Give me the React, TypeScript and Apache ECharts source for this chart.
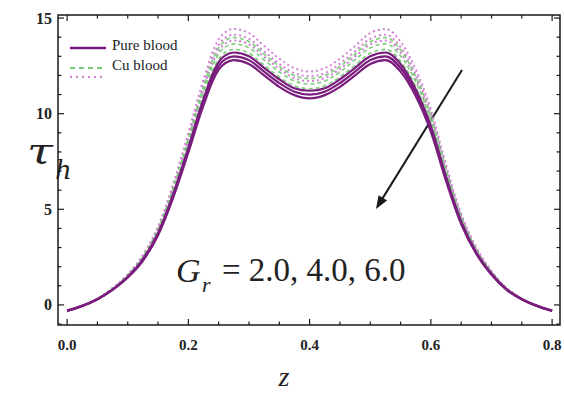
import React, { useEffect, useRef } from "react";
import * as echarts from "echarts";

// axial coordinate z
const zValues = [
  0, 0.025, 0.05, 0.075, 0.1, 0.125, 0.15, 0.175, 0.2, 0.225, 0.25, 0.275, 0.3,
  0.325, 0.35, 0.375, 0.4, 0.425, 0.45, 0.475, 0.5, 0.525, 0.55, 0.575, 0.6,
  0.625, 0.65, 0.675, 0.7, 0.725, 0.75, 0.775, 0.8,
];

// wall shear stress, pure blood, Gr = 2.0, 4.0, 6.0
const pureGr2 = [-0.3, -0.05, 0.3, 0.8, 1.47, 2.39, 3.76, 5.79, 8.23, 10.77, 12.7, 13.2, 13.0, 12.4, 11.8, 11.33, 11.2, 11.33, 11.8, 12.4, 13.0, 13.2, 12.6, 11.28, 9.35, 6.71, 4.37, 2.74, 1.63, 0.81, 0.3, -0.05, -0.3];
const pureGr4 = [-0.3, -0.05, 0.3, 0.8, 1.45, 2.35, 3.7, 5.7, 8.1, 10.6, 12.5, 13.0, 12.8, 12.2, 11.6, 11.15, 11.0, 11.15, 11.6, 12.2, 12.8, 13.0, 12.4, 11.1, 9.2, 6.6, 4.3, 2.7, 1.6, 0.8, 0.3, -0.05, -0.3];
const pureGr6 = [-0.3, -0.05, 0.3, 0.79, 1.43, 2.31, 3.64, 5.61, 7.97, 10.43, 12.3, 12.8, 12.6, 12.0, 11.4, 10.97, 10.8, 10.97, 11.4, 12.0, 12.6, 12.8, 12.2, 10.92, 9.05, 6.49, 4.23, 2.66, 1.57, 0.79, 0.3, -0.05, -0.3];

// wall shear stress, Cu blood, Gr = 2.0, 4.0, 6.0
const cuGr2 = [-0.32, -0.05, 0.32, 0.86, 1.56, 2.53, 3.98, 6.13, 8.71, 11.4, 13.44, 13.98, 13.76, 13.12, 12.47, 11.99, 11.83, 11.99, 12.47, 13.12, 13.76, 13.98, 13.33, 11.93, 9.89, 7.1, 4.62, 2.9, 1.72, 0.86, 0.32, -0.05, -0.32];
const cuGr4 = [-0.32, -0.05, 0.32, 0.84, 1.52, 2.47, 3.89, 5.99, 8.51, 11.13, 13.13, 13.65, 13.44, 12.81, 12.18, 11.71, 11.55, 11.71, 12.18, 12.81, 13.44, 13.65, 13.02, 11.66, 9.66, 6.93, 4.52, 2.84, 1.68, 0.84, 0.32, -0.05, -0.32];
const cuGr6 = [-0.31, -0.05, 0.31, 0.82, 1.49, 2.42, 3.8, 5.86, 8.33, 10.9, 12.85, 13.36, 13.16, 12.54, 11.92, 11.46, 11.31, 11.46, 11.92, 12.54, 13.16, 13.36, 12.75, 11.41, 9.46, 6.78, 4.42, 2.78, 1.64, 0.82, 0.31, -0.05, -0.31];

// third (dotted) family, Gr = 2.0, 4.0, 6.0
const dotGr2 = [-0.33, -0.06, 0.33, 0.89, 1.61, 2.61, 4.11, 6.33, 8.99, 11.77, 13.88, 14.43, 14.21, 13.54, 12.88, 12.38, 12.21, 12.38, 12.88, 13.54, 14.21, 14.43, 13.76, 12.32, 10.21, 7.33, 4.77, 3.0, 1.78, 0.89, 0.33, -0.06, -0.33];
const dotGr4 = [-0.33, -0.05, 0.33, 0.87, 1.58, 2.55, 4.02, 6.2, 8.8, 11.52, 13.59, 14.13, 13.91, 13.26, 12.61, 12.12, 11.96, 12.12, 12.61, 13.26, 13.91, 14.13, 13.48, 12.07, 10.0, 7.17, 4.67, 2.93, 1.74, 0.87, 0.33, -0.05, -0.33];
const dotGr6 = [-0.32, -0.05, 0.32, 0.85, 1.54, 2.5, 3.94, 6.06, 8.62, 11.28, 13.3, 13.83, 13.62, 12.98, 12.34, 11.86, 11.7, 11.86, 12.34, 12.98, 13.62, 13.83, 13.19, 11.81, 9.79, 7.02, 4.58, 2.87, 1.7, 0.85, 0.32, -0.05, -0.32];

// tick positions
const xMajorTicks = [0, 0.2, 0.4, 0.6, 0.8];
const xMinorTicks = [0.05, 0.1, 0.15, 0.25, 0.3, 0.35, 0.45, 0.5, 0.55, 0.65, 0.7, 0.75];
const yMajorTicks = [0, 5, 10, 15];
const yMinorTicks = [-1, 1, 2, 3, 4, 6, 7, 8, 9, 11, 12, 13, 14];

const X_MIN = -0.015;
const X_MAX = 0.813;
const Y_MIN = -1.05;
const Y_MAX = 15.16;

const PURPLE = "#7b1d7f";
const GREEN = "#7ccc7a";
const PINK = "#d47fd6";
const INK = "#1a1a1a";
const LABEL_FONT = "Liberation Serif";

const pairs = (ys: number[]) => zValues.map((z, i) => [z, ys[i]]);

// [x, y, isMajor, isYTick]
const tickData = [
  ...xMajorTicks.map((v) => [v, 0, 1, 0]),
  ...xMinorTicks.map((v) => [v, 0, 0, 0]),
  ...yMajorTicks.map((v) => [0, v, 1, 1]),
  ...yMinorTicks.map((v) => [0, v, 0, 1]),
];

function lineSeries(name: string, ys: number[], color: string, width: number, type: any, z: number) {
  return {
    type: "line",
    name,
    data: pairs(ys),
    smooth: 0.35,
    showSymbol: false,
    symbol: "none",
    z,
    lineStyle: { color, width, type },
  };
}

// inward ticks on all four sides of the frame
function renderTick(params: any, api: any) {
  const cs = params.coordSys;
  const major = api.value(2) === 1;
  const isY = api.value(3) === 1;
  const len = major ? 6 : 3.5;
  const style = { stroke: INK, lineWidth: 1.2 };
  if (!isY) {
    const x = api.coord([api.value(0), 0])[0];
    const bottom = cs.y + cs.height;
    return {
      type: "group",
      children: [
        { type: "line", shape: { x1: x, y1: bottom, x2: x, y2: bottom - len }, style },
        { type: "line", shape: { x1: x, y1: cs.y, x2: x, y2: cs.y + len }, style },
      ],
    };
  }
  const y = api.coord([0, api.value(1)])[1];
  const right = cs.x + cs.width;
  return {
    type: "group",
    children: [
      { type: "line", shape: { x1: cs.x, y1: y, x2: cs.x + len, y2: y }, style },
      { type: "line", shape: { x1: right, y1: y, x2: right - len, y2: y }, style },
    ],
  };
}

// arrow geometry (annotation)
const arrowStart = [462, 70];
const arrowTip = [376, 209];

function arrowShapes() {
  const dx = arrowTip[0] - arrowStart[0];
  const dy = arrowTip[1] - arrowStart[1];
  const len = Math.hypot(dx, dy);
  const ux = dx / len;
  const uy = dy / len;
  const bx = arrowTip[0] - ux * 13;
  const by = arrowTip[1] - uy * 13;
  const px = -uy * 5;
  const py = ux * 5;
  return {
    line: [arrowStart[0], arrowStart[1], bx + ux * 2, by + uy * 2],
    head: [
      [arrowTip[0], arrowTip[1]],
      [bx + px, by + py],
      [bx - px, by - py],
    ],
  };
}

export default function App() {
  const ref = useRef<HTMLDivElement>(null);

  useEffect(() => {
    if (!ref.current) return;
    const chart = echarts.init(ref.current, null, { renderer: "svg" });
    const arrow = arrowShapes();

    const option: any = {
      animation: false,
      backgroundColor: "#ffffff",
      grid: {
        left: 58,
        right: 4,
        top: 15,
        bottom: 70,
        show: true,
        borderColor: INK,
        borderWidth: 1.5,
        outerBoundsMode: "none",
      },
      xAxis: {
        type: "value",
        min: X_MIN,
        max: X_MAX,
        axisLine: { show: false },
        axisTick: { show: false },
        splitLine: { show: false },
        axisLabel: {
          customValues: xMajorTicks,
          formatter: (v: number) => v.toFixed(1),
          margin: 12,
          color: "#222",
          fontFamily: LABEL_FONT,
          fontWeight: "bold",
          fontSize: 15,
        },
      },
      yAxis: {
        type: "value",
        min: Y_MIN,
        max: Y_MAX,
        axisLine: { show: false },
        axisTick: { show: false },
        splitLine: { show: false },
        axisLabel: {
          customValues: yMajorTicks,
          margin: 6,
          color: "#222",
          fontFamily: LABEL_FONT,
          fontWeight: "bold",
          fontSize: 16,
        },
      },
      series: [
        lineSeries("Dotted, Gr = 2.0", dotGr2, PINK, 2, [2, 3], 2),
        lineSeries("Dotted, Gr = 4.0", dotGr4, PINK, 2, [2, 3], 2),
        lineSeries("Dotted, Gr = 6.0", dotGr6, PINK, 2, [2, 3], 2),
        lineSeries("Cu blood, Gr = 2.0", cuGr2, GREEN, 1.6, [4, 3], 3),
        lineSeries("Cu blood, Gr = 4.0", cuGr4, GREEN, 1.6, [4, 3], 3),
        lineSeries("Cu blood, Gr = 6.0", cuGr6, GREEN, 1.6, [4, 3], 3),
        lineSeries("Pure blood, Gr = 2.0", pureGr2, PURPLE, 2.2, "solid", 4),
        lineSeries("Pure blood, Gr = 4.0", pureGr4, PURPLE, 2.2, "solid", 4),
        lineSeries("Pure blood, Gr = 6.0", pureGr6, PURPLE, 2.2, "solid", 4),
        {
          type: "custom",
          name: "ticks",
          data: tickData,
          encode: { x: 0, y: 1 },
          renderItem: renderTick,
          silent: true,
          z: 6,
        },
      ],
      graphic: [
        // legend
        { type: "line", shape: { x1: 70, y1: 48, x2: 106, y2: 48 }, style: { stroke: PURPLE, lineWidth: 2.5 } },
        { type: "text", x: 112, y: 45, style: { text: "Pure blood", font: `15px "${LABEL_FONT}"`, fill: "#222", textVerticalAlign: "middle" } },
        { type: "line", shape: { x1: 70, y1: 68, x2: 103, y2: 68 }, style: { stroke: GREEN, lineWidth: 2, lineDash: [5, 4] } },
        { type: "text", x: 112, y: 65, style: { text: "Cu blood", font: `15px "${LABEL_FONT}"`, fill: "#222", textVerticalAlign: "middle" } },
        { type: "line", shape: { x1: 70, y1: 77, x2: 103, y2: 77 }, style: { stroke: PINK, lineWidth: 2, lineDash: [2, 4] } },

        // axis titles
        { type: "text", x: 27, y: 150, scaleX: 1.3, style: { text: "τ", font: `italic 36px "DejaVu Serif"`, fill: "#222", textVerticalAlign: "middle" } },
        { type: "text", x: 55, y: 170, style: { text: "h", font: `italic 26px "DejaVu Serif"`, fill: "#222", textVerticalAlign: "middle" } },
        { type: "text", x: 284, y: 376, style: { text: "z", font: `italic 28px "${LABEL_FONT}"`, fill: "#222", textAlign: "center", textVerticalAlign: "middle" } },

        // parameter annotation
        { type: "text", x: 176, y: 270, style: { text: "G", font: `italic 34px "${LABEL_FONT}"`, fill: "#222", textVerticalAlign: "middle" } },
        { type: "text", x: 202, y: 284, style: { text: "r", font: `italic 22px "${LABEL_FONT}"`, fill: "#222", textVerticalAlign: "middle" } },
        { type: "text", x: 222, y: 270, style: { text: "= 2.0, 4.0, 6.0", font: `33px "${LABEL_FONT}"`, fill: "#222", textVerticalAlign: "middle" } },

        // arrow
        { type: "line", shape: { x1: arrow.line[0], y1: arrow.line[1], x2: arrow.line[2], y2: arrow.line[3] }, style: { stroke: INK, lineWidth: 2 } },
        { type: "polygon", shape: { points: arrow.head }, style: { fill: INK } },
      ],
    };

    chart.setOption(option);
    return () => chart.dispose();
  }, []);

  return (
    <div
      ref={ref}
      style={{ position: "absolute", left: 0, top: 0, width: 564, height: 395, background: "#fff" }}
    />
  );
}
